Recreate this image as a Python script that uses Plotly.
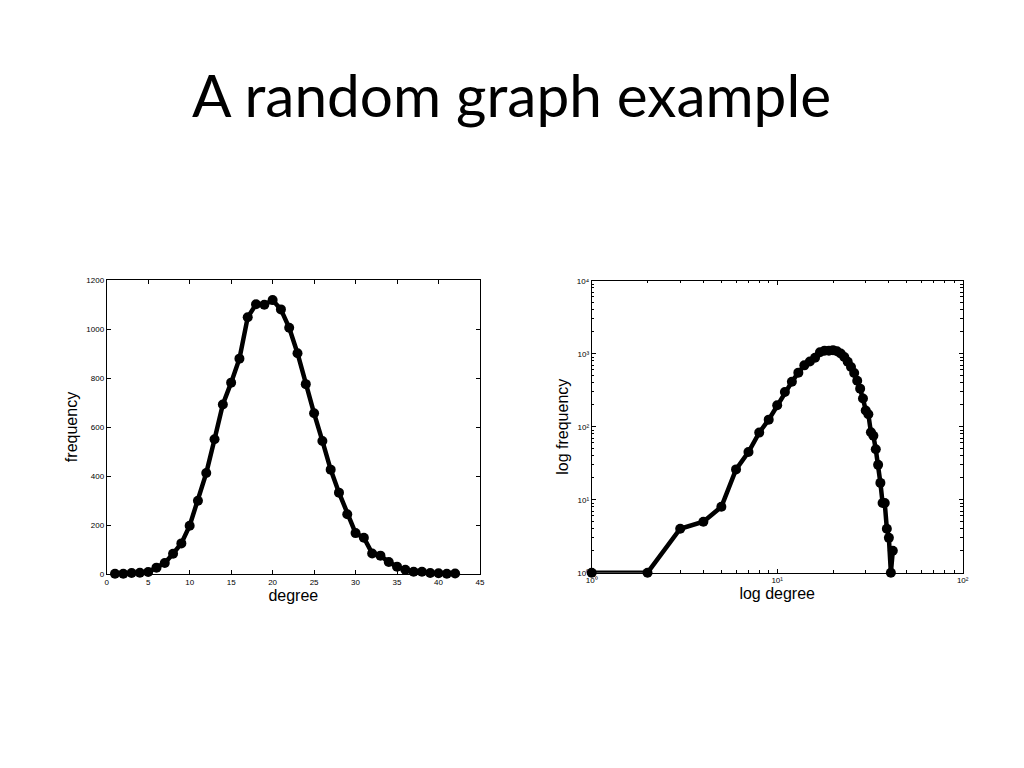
import plotly.graph_objects as go

degree = list(range(1, 43))
frequency = [1, 1, 4, 5, 8, 26, 45, 83, 125, 197, 299, 412, 550, 692, 781, 879,
             1048, 1101, 1099, 1118, 1080, 1005, 901, 775, 656, 543, 426, 332,
             244, 167, 148, 84, 75, 49, 30, 17, 9, 9, 4, 3, 1, 2]

lin_xticks = [0, 5, 10, 15, 20, 25, 30, 35, 40, 45]
lin_yticks = [0, 200, 400, 600, 800, 1000, 1200]
log_xticks = [1, 10, 100]
log_xtext = ["10⁰", "10¹", "10²"]
log_yticks = [1, 10, 100, 1000, 10000]
log_ytext = ["10⁰", "10¹", "10²", "10³", "10⁴"]
minor_x = [m * 10 ** d for d in range(0, 2) for m in range(2, 10)]
minor_y = [m * 10 ** d for d in range(0, 4) for m in range(2, 10)]

# the page body has an 8px margin; the figure fills the rest of the window
OFF = 8
W, H = 1024 - 2 * OFF, 768 - 2 * OFF


def fx(px):
    return (px - OFF) / W


def fy(py):
    return 1 - (py - OFF) / H


tickfont = dict(family="Liberation Sans, Arial", size=8, color="black")
titlefont = dict(family="Liberation Sans, Arial", size=16, color="black")

fig = go.Figure()
style = dict(mode="lines+markers", line=dict(color="black", width=4.5),
             marker=dict(color="black", size=10), showlegend=False, cliponaxis=False)
fig.add_trace(go.Scatter(x=degree, y=frequency, xaxis="x", yaxis="y", **style))
fig.add_trace(go.Scatter(x=degree, y=frequency, xaxis="x2", yaxis="y2", **style))

axcommon = dict(showgrid=False, zeroline=False, showline=True, linecolor="black",
                linewidth=1, mirror="ticks", ticks="inside", ticklen=4,
                tickcolor="black", tickfont=tickfont, automargin=False)

fig.update_layout(
    width=W, height=H,
    margin=dict(l=0, r=0, t=0, b=0, autoexpand=False),
    paper_bgcolor="white", plot_bgcolor="white",
    xaxis=dict(domain=[fx(106.7), fx(480)], anchor="y", range=[0, 45],
               tickvals=lin_xticks,
               title=dict(text="degree", font=titlefont, standoff=2), **axcommon),
    yaxis=dict(domain=[fy(574), fy(280)], anchor="x", range=[0, 1200],
               tickvals=lin_yticks,
               title=dict(text="frequency", font=titlefont, standoff=4), **axcommon),
    xaxis2=dict(domain=[fx(591.7), fx(962.7)], anchor="y2", type="log", range=[0, 2],
                tickvals=log_xticks, ticktext=log_xtext,
                minor=dict(ticks="inside", ticklen=2.5, tickcolor="black", tickvals=minor_x),
                title=dict(text="log degree", font=titlefont, standoff=2), **axcommon),
    yaxis2=dict(domain=[fy(572.7), fy(280.7)], anchor="x2", type="log", range=[0, 4],
                tickvals=log_yticks, ticktext=log_ytext,
                minor=dict(ticks="inside", ticklen=2.5, tickcolor="black", tickvals=minor_y),
                title=dict(text="log frequency", font=titlefont, standoff=4), **axcommon),
    title=dict(text="A random graph example", x=fx(511.5), xanchor="center",
               y=fy(97), yanchor="middle",
               font=dict(family="Lato, Open Sans", size=58.5, color="black")),
)

fig.write_html("out.html")
